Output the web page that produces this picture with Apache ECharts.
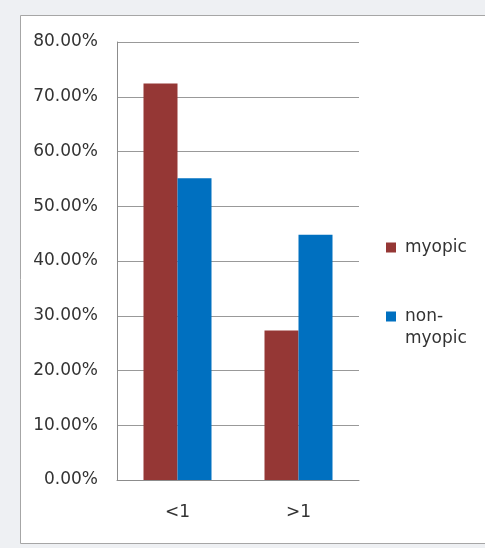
<!DOCTYPE html>
<html>
<head>
<meta charset="utf-8">
<script src="https://cdn.jsdelivr.net/npm/echarts@6/dist/echarts.min.js"></script>
<style>
  html, body { margin: 0; padding: 0; background: #eef0f3; }
  #chart { width: 485px; height: 548px; }
</style>
</head>
<body>
<div id="chart"></div>
<script>
// Share of subjects by group, per category
const categories = ['<1', '>1'];
const myopic = [72.4, 27.3];
const nonMyopic = [55.1, 44.8];
const yTicks = [0, 10, 20, 30, 40, 50, 60, 70, 80];

const FONT = 'DejaVu Sans';
const TEXT = '#333333';

const chart = echarts.init(document.getElementById('chart'));
chart.setOption({
  backgroundColor: '#eef0f3',
  animation: false,
  graphic: [
    {
      type: 'rect', z: -10,
      shape: { x: 20.5, y: 15.5, width: 480, height: 528 },
      style: { fill: '#ffffff', stroke: '#a6a6a6', lineWidth: 1 }
    },
    {
      type: 'text', left: 405, top: 330,
      style: { text: 'myopic', font: '17px "' + FONT + '"', fill: TEXT }
    }
  ],
  legend: [
    {
      data: ['myopic'], orient: 'vertical', left: 381, top: 234,
      icon: 'rect', itemWidth: 10, itemHeight: 10, itemGap: 0,
      textStyle: { fontFamily: FONT, fontSize: 17, color: TEXT, padding: [0, 0, 0, 4] }
    },
    {
      data: ['non-myopic'], orient: 'vertical', left: 381, top: 303,
      icon: 'rect', itemWidth: 10, itemHeight: 10, itemGap: 0,
      formatter: () => 'non-',
      textStyle: { fontFamily: FONT, fontSize: 17, color: TEXT, padding: [0, 0, 0, 4] }
    }
  ],
  grid: { left: 117, top: 42, width: 242, bottom: 68, containLabel: false },
  xAxis: {
    type: 'category',
    data: categories,
    axisLine: { show: true, lineStyle: { color: '#8c8c8c', width: 1 } },
    axisTick: { show: false },
    axisLabel: { fontFamily: FONT, fontSize: 17, color: TEXT, margin: 24 }
  },
  yAxis: {
    type: 'value',
    min: yTicks[0],
    max: yTicks[yTicks.length - 1],
    interval: 10,
    axisLine: { show: true, lineStyle: { color: '#8c8c8c', width: 1 } },
    axisTick: { show: false },
    splitLine: { lineStyle: { color: '#999999', width: 1 } },
    axisLabel: {
      fontFamily: FONT, fontSize: 17, color: TEXT, margin: 19,
      formatter: v => v.toFixed(2) + '%'
    }
  },
  series: [
    {
      name: 'myopic', type: 'bar', data: myopic,
      barWidth: 34, barGap: '0%',
      itemStyle: { color: '#953735' }
    },
    {
      name: 'non-myopic', type: 'bar', data: nonMyopic,
      barWidth: 34, barGap: '0%',
      itemStyle: { color: '#0070c0' }
    }
  ]
});
</script>
</body>
</html>
